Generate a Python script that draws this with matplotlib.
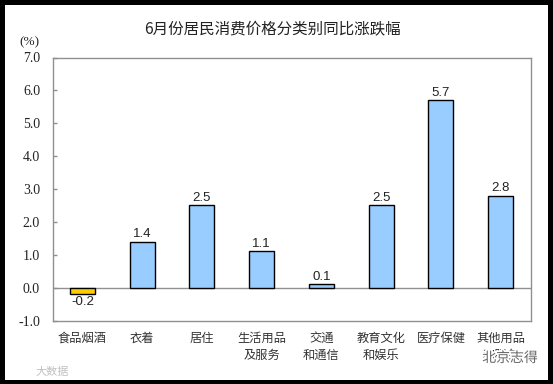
import numpy as np
import matplotlib
matplotlib.use("Agg")
import matplotlib.pyplot as plt
import matplotlib.patheffects as pe
from matplotlib.patches import Rectangle

CJK = ['Noto Sans CJK SC', 'DejaVu Sans']
plt.rcParams['font.family'] = CJK

categories = ["食品烟酒", "衣着", "居住", "生活用品\n及服务", "交通\n和通信",
              "教育文化\n和娱乐", "医疗保健", "其他用品\n和服务"]
values = [-0.2, 1.4, 2.5, 1.1, 0.1, 2.5, 5.7, 2.8]
y_ticks = [-1.0, 0.0, 1.0, 2.0, 3.0, 4.0, 5.0, 6.0, 7.0]

W, H = 553, 384
fig = plt.figure(figsize=(W / 100, H / 100), dpi=100, facecolor='black')

# white page inside the black frame
fig.add_artist(Rectangle((5 / W, 1 - 380 / H), 543 / W, 375 / H, zorder=-1,
                         transform=fig.transFigure, facecolor='white', edgecolor='none'))

ax = fig.add_axes([52.5 / W, 1 - 320.5 / H, 478 / W, 263 / H])
x = np.arange(len(categories))
colors = ['#FFCC00' if v < 0 else '#99CCFF' for v in values]
ax.bar(x, values, width=0.42, color=colors, edgecolor='black', linewidth=1.0, zorder=3)

ax.set_xlim(-0.5, len(categories) - 0.5)
ax.set_ylim(-1, 7)
ax.axhline(0, color='#909090', linewidth=1.0, zorder=2)
for s in ax.spines.values():
    s.set_color('#909090')
    s.set_linewidth(1.0)

ax.set_yticks(y_ticks)
ax.set_yticklabels([f"{t:.1f}" for t in y_ticks], family='Liberation Serif', fontsize=10, color='#222222')
ax.tick_params(axis='y', direction='in', length=3, color='#909090', width=1, pad=9)
ax.set_xticks(x)
ax.set_xticklabels(categories, fontsize=8.8, color='#333333', linespacing=1.4, va='top')
ax.tick_params(axis='x', length=0, pad=8)

for i, v in enumerate(values):
    if v < 0:
        ax.annotate(f"{v:.1f}", (i, v), xytext=(0, -1), textcoords='offset points', ha='center', va='top',
                    family='Liberation Sans', fontsize=9.5, color='#222222', zorder=4)
    else:
        ax.annotate(f"{v:.1f}", (i, v), xytext=(0, 1), textcoords='offset points', ha='center', va='bottom',
                    family='Liberation Sans', fontsize=9.5, color='#222222', zorder=4)

fig.text(272 / W, 1 - 30 / H, "6月份居民消费价格分类别同比涨跌幅", ha='center', va='center',
         fontsize=11.2, color='#222222')
fig.text(29 / W, 1 - 42 / H, "(%)", ha='center', va='center', family='Liberation Serif',
         fontsize=9.5, color='#222222')

# watermarks, the halo lets the right one sit over the last label
wm = fig.text(510 / W, 1 - 358 / H, "北京志得", ha='center', va='center', fontsize=10,
              color='#666666', zorder=5)
wm.set_path_effects([pe.withStroke(linewidth=2.5, foreground='white')])
fig.text(52 / W, 1 - 372 / H, "大数据", ha='center', va='center', fontsize=8,
         color='#c0c0c0', zorder=5)

fig.savefig("out.png", dpi=100, facecolor=fig.get_facecolor())
